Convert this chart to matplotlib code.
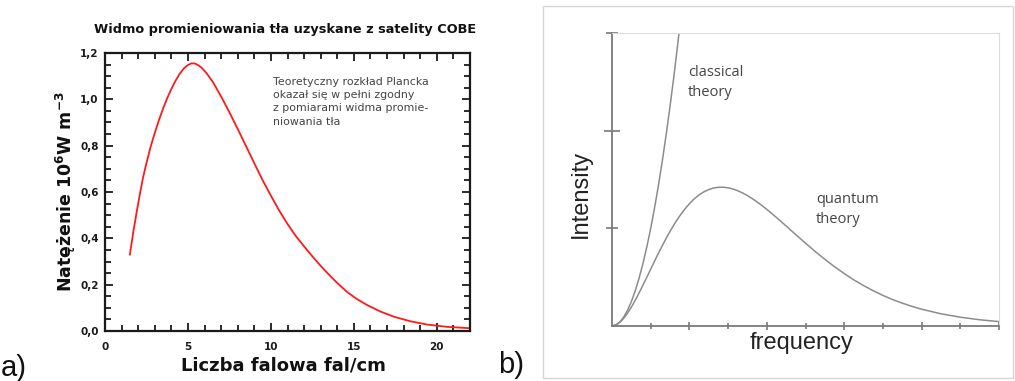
import matplotlib
matplotlib.use("Agg")
import matplotlib.pyplot as plt
from matplotlib.ticker import MultipleLocator, FixedLocator, FixedFormatter
from matplotlib.patches import Rectangle

# ---------------- data: panel a (COBE spectrum) ----------------
wavenumber = [1.5, 1.7, 1.9, 2.1, 2.3, 2.5, 2.75, 3.0, 3.25, 3.5, 3.75, 4.0,
              4.25, 4.5, 4.75, 5.0, 5.2, 5.4, 5.6, 5.8, 6.1, 6.5, 7.0, 7.5,
              8.0, 8.5, 9.0, 9.5, 10.0, 10.5, 11.0, 11.5, 12.0, 12.5, 13.0,
              13.5, 14.0, 14.6, 15.2, 15.8, 16.6, 17.4, 18.4, 19.4, 20.6, 22.0]
intensity = [0.33, 0.425, 0.51, 0.59, 0.665, 0.725, 0.795, 0.855, 0.91, 0.96,
             1.005, 1.045, 1.08, 1.11, 1.133, 1.148, 1.155, 1.155, 1.148,
             1.138, 1.115, 1.075, 1.012, 0.944, 0.872, 0.798, 0.724, 0.651,
             0.584, 0.52, 0.462, 0.41, 0.365, 0.322, 0.281, 0.243, 0.207,
             0.168, 0.137, 0.112, 0.084, 0.062, 0.042, 0.028, 0.018, 0.012]
a_yticks = [0.0, 0.2, 0.4, 0.6, 0.8, 1.0, 1.2]
a_yticklabels = ["0,0", "0,2", "0,4", "0,6", "0,8", "1,0", "1,2"]
a_xticks = [0, 5, 10, 15, 20]
a_xticklabels = ["0", "5", "10", "15", "20"]
a_title = "Widmo promieniowania tła uzyskane z satelity COBE"
a_xlabel = "Liczba falowa fal/cm"
a_ylabel = "Natężenie 10$^6$W m$^{-3}$"
a_note = "Teoretyczny rozkład Plancka\nokazał się w pełni zgodny\nz pomiarami widma promie-\nniowania tła"

# ---------------- data: panel b (classical vs quantum) ----------------
classical_x = [0, 0.1, 0.2, 0.3, 0.4, 0.5, 0.6, 0.7, 0.8, 0.9, 1.0, 1.1, 1.2,
               1.3, 1.4, 1.5, 1.6, 1.7, 1.8]
classical_y = [0, 0.01, 0.04, 0.09, 0.16, 0.25, 0.36, 0.49, 0.64, 0.81, 1.0,
               1.21, 1.44, 1.69, 1.96, 2.25, 2.56, 2.89, 3.24]
quantum_x = [0, 0.125, 0.25, 0.375, 0.5, 0.625, 0.75, 0.875, 1.0, 1.125,
             1.25, 1.375, 1.5, 1.625, 1.75, 1.875, 2.0, 2.125, 2.25, 2.375,
             2.5, 2.625, 2.75, 2.875, 3.0, 3.125, 3.25, 3.375, 3.5, 3.625,
             3.75, 3.875, 4.0, 4.25, 4.5, 4.75, 5.0, 5.25, 5.5, 5.75, 6.0,
             6.25, 6.5, 6.75, 7.0, 7.25, 7.5, 7.75, 8.0, 8.5, 9.0, 9.5, 10.0]
quantum_y = [0, 0.015, 0.055, 0.116, 0.193, 0.281, 0.378, 0.479, 0.582,
             0.685, 0.784, 0.880, 0.969, 1.052, 1.127, 1.194, 1.252, 1.302,
             1.342, 1.374, 1.397, 1.413, 1.420, 1.421, 1.415, 1.403, 1.385,
             1.362, 1.335, 1.304, 1.270, 1.233, 1.194, 1.111, 1.024, 0.935,
             0.848, 0.763, 0.683, 0.607, 0.537, 0.472, 0.414, 0.361, 0.313,
             0.271, 0.234, 0.201, 0.172, 0.125, 0.090, 0.064, 0.045]

W, H = 1015, 381
fig = plt.figure(figsize=(W / 100, H / 100), dpi=100)
plt.rcParams["mathtext.fontset"] = "dejavusans"
plt.rcParams["mathtext.default"] = "bf"

def fx(px):
    return px / W

def fy(py):
    return 1 - py / H

# ---------------- panel a ----------------
axa = fig.add_axes([fx(105), fy(331), fx(470) - fx(105), fy(53) - fy(331)])
axa.plot(wavenumber, intensity, color="#ff1a1a", lw=1.3)
axa.set_xlim(0, 22)
axa.set_ylim(0, 1.2)
axa.xaxis.set_major_locator(FixedLocator(a_xticks))
axa.xaxis.set_major_formatter(FixedFormatter(a_xticklabels))
axa.xaxis.set_minor_locator(MultipleLocator(1))
axa.yaxis.set_major_locator(FixedLocator(a_yticks))
axa.yaxis.set_major_formatter(FixedFormatter(a_yticklabels))
axa.yaxis.set_minor_locator(MultipleLocator(0.05))
for s in axa.spines.values():
    s.set_linewidth(1.6)
    s.set_color("#1a1a1a")
axa.tick_params(which="both", direction="in", top=True, right=True,
                color="#1a1a1a", width=1.3)
axa.tick_params(which="major", length=6)
axa.tick_params(which="minor", length=4)
axa.tick_params(axis="y", which="major", pad=4.5)
axa.tick_params(axis="x", which="major", pad=8)
for lab in axa.get_xticklabels() + axa.get_yticklabels():
    lab.set_fontweight("bold")
    lab.set_fontsize(7.5)
    lab.set_color("#1a1a1a")

fig.text(fx(285), fy(30), a_title, ha="center", va="center",
         fontsize=9.3, fontweight="bold", color="#111111")
fig.text(fx(283), fy(365), a_xlabel, ha="center", va="center",
         fontsize=13, fontweight="bold", color="#111111")
fig.text(fx(66), fy(192), a_ylabel, ha="center", va="center", rotation=90,
         fontsize=12.5, fontweight="bold", color="#111111")
fig.text(fx(273), fy(77), a_note, ha="left", va="top", fontsize=7.9,
         color="#444444", linespacing=1.4)
fig.text(fx(1), fy(376), "a)", ha="left", va="baseline", fontsize=21,
         family="Liberation Sans", color="#111111")

# ---------------- panel b ----------------
fig.patches.append(Rectangle((fx(543), fy(378)), fx(1013) - fx(543),
                             fy(6) - fy(378), transform=fig.transFigure,
                             fill=False, edgecolor="#d6d6d6", lw=1.0))
fig.text(fx(498), fy(373), "b)", ha="left", va="baseline", fontsize=21,
         family="Liberation Sans", color="#111111")

axb = fig.add_axes([fx(612), fy(326), fx(999) - fx(612), fy(33) - fy(326)])
axb.plot(classical_x, classical_y, color="#8c8c8c", lw=1.1)
axb.plot(quantum_x, quantum_y, color="#8c8c8c", lw=1.1)
axb.set_xlim(0, 10)
axb.set_ylim(0, 3)
axb.xaxis.set_major_locator(FixedLocator([2, 4, 6, 8, 10]))
axb.xaxis.set_minor_locator(FixedLocator([1, 3, 5, 7, 9]))
axb.yaxis.set_major_locator(FixedLocator([2]))
axb.yaxis.set_minor_locator(FixedLocator([1, 3]))
axb.set_xticklabels([])
axb.set_yticklabels([])
axb.spines["left"].set_color("#7a7a7a")
axb.spines["bottom"].set_color("#7a7a7a")
axb.spines["left"].set_linewidth(1.3)
axb.spines["bottom"].set_linewidth(1.3)
axb.spines["top"].set_color("#dcdcdc")
axb.spines["right"].set_color("#dcdcdc")
axb.tick_params(which="both", direction="inout", color="#6e6e6e", width=1.1)
axb.tick_params(axis="x", which="major", length=6)
axb.tick_params(axis="x", which="minor", length=4)
axb.tick_params(axis="y", which="major", length=12)
axb.tick_params(axis="y", which="minor", length=8)

fig.text(fx(581), fy(194), "Intensity", ha="center", va="center",
         rotation=90, fontsize=17, family="Liberation Sans", color="#222222")
fig.text(fx(802), fy(343), "frequency", ha="center", va="center",
         fontsize=17, family="Liberation Sans", color="#222222")
fig.text(fx(688), fy(65), "classical\ntheory", ha="left", va="top",
         fontsize=10.5, family="Open Sans", color="#444444", linespacing=1.45)
fig.text(fx(816), fy(192), "quantum\ntheory", ha="left", va="top",
         fontsize=10.5, family="Open Sans", color="#444444", linespacing=1.45)

fig.savefig("out.png", dpi=100)
